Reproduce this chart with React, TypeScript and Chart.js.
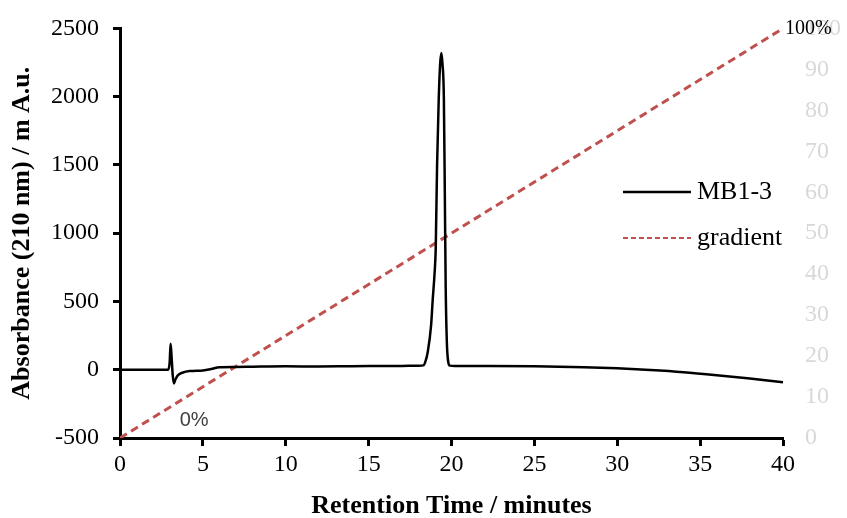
import React, { useEffect, useRef } from "react";
import { Chart, registerables } from "chart.js";

Chart.register(...registerables);

// Retention time (minutes) and absorbance (m A.u.) of the MB1-3 trace
const times = [
  0, 2.9, 3.0, 3.05, 3.1, 3.18, 3.25, 3.35, 3.5, 3.8, 4.2, 5.0, 5.5, 6.0, 7, 8, 10, 12, 14, 16, 17, 18,
  18.3, 18.4, 18.57, 18.77, 18.87, 18.97, 19.05, 19.13, 19.23, 19.32, 19.39, 19.45, 19.54, 19.6, 19.65,
  19.72, 19.8, 19.9, 20.2, 22, 25, 28, 30, 32, 34, 36, 38, 40,
];
const absorbance = [
  0, 0, 60, 190, 120, -40, -100, -70, -40, -20, -10, -5, 5, 18, 20, 22, 25, 24, 26, 27, 28, 30,
  32, 50, 132, 327, 520, 690, 900, 1500, 1985, 2250, 2320, 2250, 1985, 1250, 600,
  200, 60, 30, 28, 28, 26, 18, 10, -2, -18, -40, -65, -92,
];

// Gradient (%) on the secondary axis
const gradientTimes = [0, 40];
const gradientPercent = [0, 100];

const xTicks = [0, 5, 10, 15, 20, 25, 30, 35, 40];
const yTicks = [-500, 0, 500, 1000, 1500, 2000, 2500];
const y2Ticks = [0, 10, 20, 30, 40, 50, 60, 70, 80, 90, 100];

const seriesNames = ["MB1-3", "gradient"];
const xTitle = "Retention Time / minutes";
const yTitle = "Absorbance (210 nm) / m A.u.";

const SERIF = "'Liberation Serif', 'Times New Roman', serif";
const SANS = "'Liberation Sans', Arial, sans-serif";
const RED = "#c0504d";

export default function App() {
  const ref = useRef<HTMLCanvasElement | null>(null);

  useEffect(() => {
    document.body.style.margin = "0";
    const canvas = ref.current;
    if (!canvas) return;

    const overlay = {
      id: "overlay",
      afterDraw(chart: any) {
        const ctx = chart.ctx;
        const ds = chart.data.datasets;
        ctx.save();
        // legend
        const rows = [192, 238];
        rows.forEach((y, i) => {
          ctx.beginPath();
          ctx.strokeStyle = ds[i].borderColor;
          ctx.lineWidth = i === 0 ? 2.5 : 2;
          ctx.setLineDash(i === 0 ? [] : [5, 3]);
          ctx.moveTo(623, y);
          ctx.lineTo(691, y);
          ctx.stroke();
          ctx.setLineDash([]);
          ctx.fillStyle = "#000";
          ctx.font = `26px ${SERIF}`;
          ctx.textAlign = "left";
          ctx.textBaseline = "middle";
          ctx.fillText(ds[i].label, 697, y);
        });
        // annotations
        const xs = chart.scales.x;
        const y2 = chart.scales.y2;
        ctx.font = `20px ${SANS}`;
        ctx.fillStyle = "#404040";
        ctx.textAlign = "left";
        ctx.textBaseline = "middle";
        ctx.fillText("0%", xs.getPixelForValue(3.6), y2.getPixelForValue(4.2));
        ctx.font = `20px ${SERIF}`;
        ctx.fillStyle = "#000";
        ctx.fillText("100%", xs.getPixelForValue(40) + 2, y2.getPixelForValue(100));
        ctx.restore();
      },
    };

    const chart = new Chart(canvas, {
      type: "line",
      data: {
        datasets: [
          {
            label: seriesNames[0],
            data: times.map((t, i) => ({ x: t, y: absorbance[i] })),
            borderColor: "#000000",
            borderWidth: 2.5,
            pointRadius: 0,
            cubicInterpolationMode: "monotone",
            yAxisID: "y",
          },
          {
            label: seriesNames[1],
            data: gradientTimes.map((t, i) => ({ x: t, y: gradientPercent[i] })),
            borderColor: RED,
            borderWidth: 3,
            borderDash: [8, 5],
            pointRadius: 0,
            yAxisID: "y2",
          },
        ],
      },
      options: {
        animation: false,
        responsive: false,
        maintainAspectRatio: false,
        layout: { padding: { top: 12, left: 0, right: 0, bottom: 0 } },
        plugins: { legend: { display: false }, tooltip: { enabled: false } },
        scales: {
          x: {
            type: "linear",
            min: 0,
            max: 40,
            afterBuildTicks: (s: any) => {
              s.ticks = xTicks.map((v) => ({ value: v }));
            },
            afterFit: (s: any) => {
              s.height = 80;
            },
            border: { display: true, color: "#000", width: 3 },
            grid: { drawOnChartArea: false, tickLength: 8, tickWidth: 3, tickColor: "#000" },
            ticks: {
              color: "#000",
              font: { family: SERIF, size: 24 },
              padding: 4,
              maxRotation: 0,
              callback: (v: any) => String(v),
            },
            title: {
              display: true,
              text: xTitle,
              color: "#000",
              font: { family: SERIF, size: 26, weight: "bold" },
              padding: { top: 0, bottom: -4 },
            },
          },
          y: {
            position: "left",
            min: -500,
            max: 2500,
            afterBuildTicks: (s: any) => {
              s.ticks = yTicks.map((v) => ({ value: v }));
            },
            afterFit: (s: any) => {
              s.width = 120;
            },
            border: { display: true, color: "#000", width: 3 },
            grid: { drawOnChartArea: false, tickLength: 7, tickWidth: 3, tickColor: "#000" },
            ticks: {
              color: "#000",
              font: { family: SERIF, size: 24 },
              padding: 14,
              callback: (v: any) => String(v),
            },
            title: {
              display: true,
              text: yTitle,
              color: "#000",
              font: { family: SERIF, size: 26, weight: "bold" },
              padding: { top: 7, bottom: 0 },
            },
          },
          y2: {
            position: "right",
            min: 0,
            max: 100,
            afterBuildTicks: (s: any) => {
              s.ticks = y2Ticks.map((v) => ({ value: v }));
            },
            afterFit: (s: any) => {
              s.width = 64;
            },
            border: { display: false },
            grid: { display: false, drawOnChartArea: false },
            ticks: {
              color: "#d8d8d8",
              font: { family: SERIF, size: 24 },
              padding: 14,
              callback: (v: any) => String(v),
            },
          },
        },
      },
      plugins: [overlay],
    } as any);

    return () => chart.destroy();
  }, []);

  return (
    <div style={{ width: 847, height: 518, position: "relative" }}>
      <canvas ref={ref} width={847} height={518} style={{ width: 847, height: 518 }} />
    </div>
  );
}
